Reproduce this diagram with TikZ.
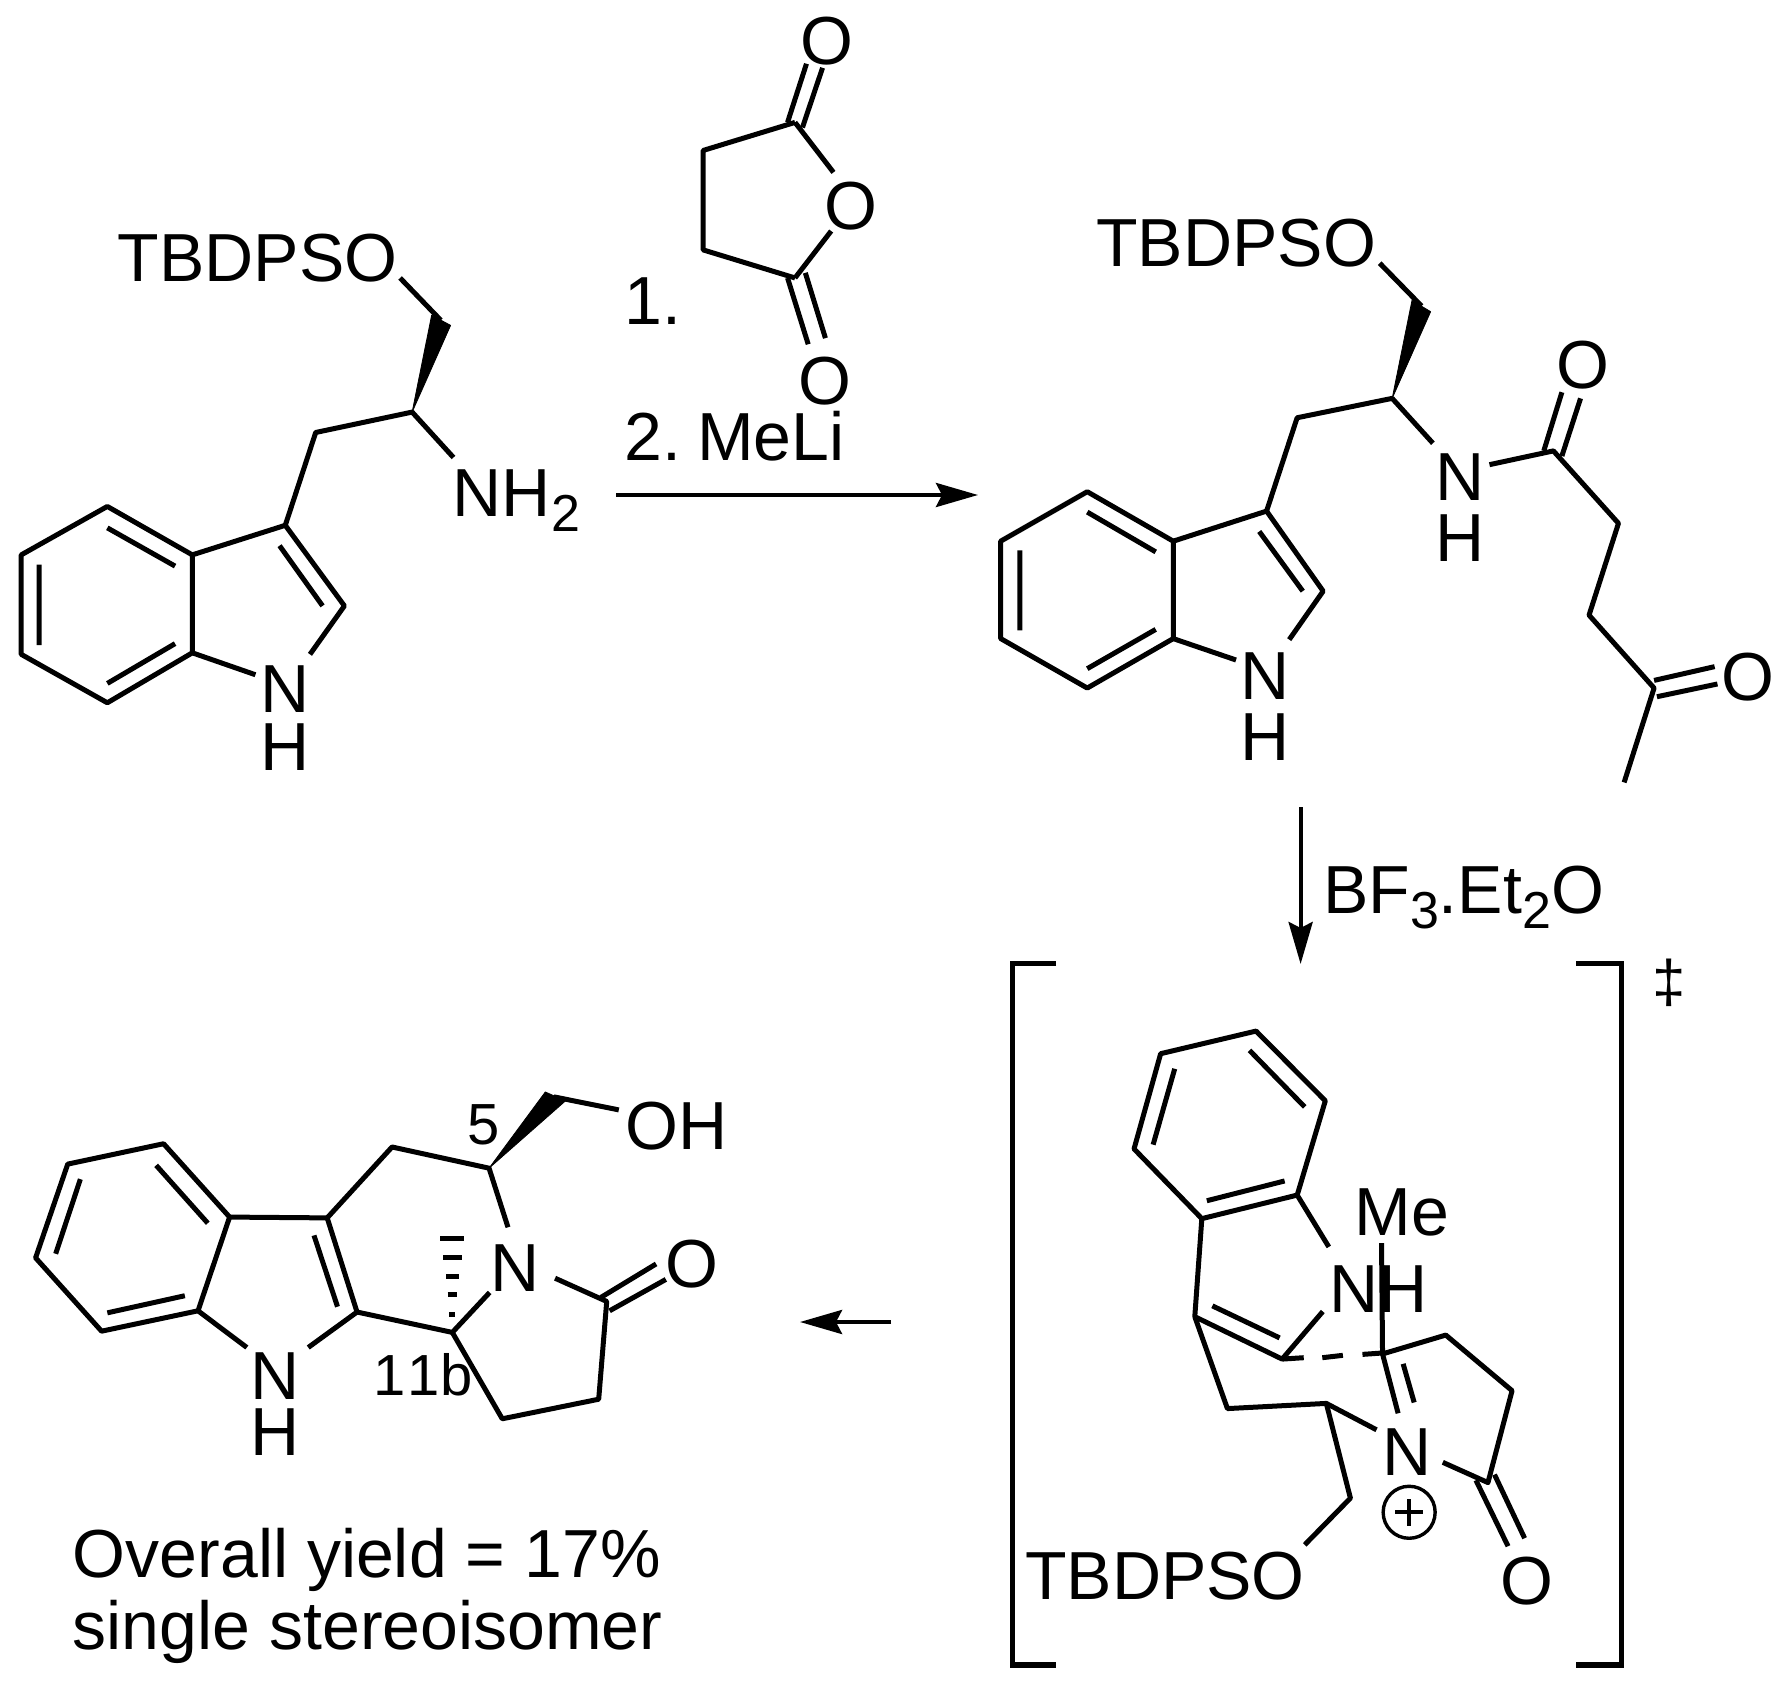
\documentclass[tikz,border=0pt]{standalone}
\usepackage{fontspec}
\setmainfont{Liberation Sans}
\usetikzlibrary{arrows.meta}
\newcommand{\subf}[1]{{\fontsize{26}{30}\selectfont\raisebox{-7.6pt}{#1}}}
\tikzset{
  atom/.style={inner sep=0pt,outer sep=0pt,anchor=base,font=\fontsize{34}{40}\selectfont},
  atomc/.style={atom,anchor=center},
  lbl/.style={atom,anchor=base west},
  small/.style={inner sep=0pt,outer sep=0pt,anchor=base west,font=\fontsize{29}{34}\selectfont},
  bond/.style={line width=2.5pt,line join=round,black},
  wedge/.style={fill=black,draw=black,line width=.4pt,line join=round},
  hash/.style={line width=2.5pt},
  rxn/.style={line width=2.1pt,-{Stealth[length=21pt,width=12pt,inset=3pt]}},
  brk/.style={line width=2.6pt,line join=miter}
}
\begin{document}
\begin{tikzpicture}
\useasboundingbox (0,0) rectangle (893.5pt,-844.5pt);
\fill[white] (0,0) rectangle (893.5pt,-844.5pt);
% ---- starting amine and anhydride
\begin{scope}[x=.287pt,y=-.255pt]
  \node[lbl] (tb1) at (205,552) {TBDPSO};
  \draw[bond] (697,545)--(768,628);
  \fill[wedge] (718,808)--(752,618)--(785,638)--cycle;
  \draw[bond] (790,897)--(718,808)--(550,848)--(497,1030);
  \draw[bond] (335,1088)--(187,993)--(37,1088)--(37,1283)--(187,1378)--(335,1280)--cycle;
  \draw[bond] (497,1030)--(335,1088);
  \draw[bond] (335,1280)--(445,1323);
  \draw[bond] (540,1283)--(600,1188)--(497,1030);
  \draw[bond] (187,1035)--(305,1110) (68,1107)--(68,1265) (187,1340)--(305,1262) (487,1070)--(562,1188);
  \node[atom] (n1) at (497,1398) {N};
  \node[atom] (h1) at (497,1510) {H};
  \node[lbl] (nh2) at (789,1012) {NH\subf{2}};
  \draw[bond] (1385,240)--(1225,295)--(1225,490)--(1385,545);
  \draw[bond] (1385,240)--(1452,338) (1448,453)--(1385,545);
  \draw[bond] (1372,240)--(1405,125) (1398,250)--(1433,133);
  \draw[bond] (1372,545)--(1408,675) (1403,535)--(1438,663);
  \node[atomc] (o1) at (1440,80) {O};
  \node[atomc] (o2) at (1482,405) {O};
  \node[atomc] (o3) at (1438,748) {O};
  \node[lbl] (s1) at (1088,636) {1.};
  \node[lbl] (s2) at (1088,903) {2.\hspace{8pt}MeLi};
\end{scope}
% ---- amide
\begin{scope}[shift={(450pt,-75pt)},x=.28285pt,y=-.255pt]
  \node[lbl] (tb2) at (347,228) {TBDPSO};
  \draw[bond] (848,222)--(922,306);
  \fill[wedge] (870,487)--(905,295)--(938,317)--cycle;
  \draw[bond] (942,575)--(870,487)--(702,525)--(648,708);
  \draw[bond] (483,767)--(331,670)--(178,767)--(178,958)--(331,1055)--(483,958)--cycle;
  \draw[bond] (648,708)--(483,767);
  \draw[bond] (483,958)--(594,1000);
  \draw[bond] (688,960)--(748,865)--(648,708);
  \draw[bond] (331,710)--(452,788) (212,785)--(212,942) (331,1017)--(452,940) (635,748)--(712,865);
  \node[atom] (n2) at (645,1078) {N};
  \node[atom] (h2) at (645,1197) {H};
  \node[atom] (n3) at (990,687) {N};
  \node[atom] (h3) at (990,807) {H};
  \draw[bond] (1042,617)--(1155,590)--(1270,732)--(1218,912)--(1333,1055)--(1280,1240);
  \draw[bond] (1138,590)--(1170,475) (1170,600)--(1203,487);
  \draw[bond] (1333,1040)--(1440,1013) (1338,1072)--(1445,1047);
  \node[atomc] (o4) at (1208,422) {O};
  \node[atomc] (o5) at (1498,1033) {O};
  \node[lbl] (bf) at (748,1497) {BF\subf{3}.Et\subf{2}O};
\end{scope}
% ---- product
\begin{scope}[shift={(0pt,-525pt)},x=.287pt,y=-.20375pt]
  \draw[bond] (285,230)--(118,280)--(62,510)--(177,690)--(345,640)--(400,410)--cycle;
  \draw[bond] (272,283)--(362,425) (140,317)--(97,500) (187,645)--(322,603);
  \draw[bond] (400,410)--(570,412)--(622,643)--(537,730);
  \draw[bond] (345,640)--(430,730);
  \draw[bond] (547,455)--(588,630);
  \draw[bond] (570,412)--(683,238)--(852,290)--(885,435);
  \draw[bond] (622,643)--(788,693)--(853,595);
  \draw[bond] (788,693)--(875,905)--(1043,857)--(1057,617)--(967,560);
  \draw[bond] (1047,607)--(1143,525) (1062,640)--(1160,563);
  \fill[wedge] (852,290)--(950,103)--(985,125)--cycle;
  \draw[bond] (965,115)--(1078,147);
  \draw[hash] (767,462)--(808,462) (772,508)--(805,508) (777,555)--(800,555) (780,600)--(797,600) (783,648)--(793,648);
  \node[atomc] (o6) at (1205,525) {O};
  \node[atom] (n4) at (898,592) {N};
  \node[lbl] (oh) at (1090,245) {OH};
  \node[small] (l5) at (815,232) {5};
  \node[small] (l11) at (650,848) {1\hspace{1pt}1\hspace{.7pt}b};
  \node[atom] (n5) at (480,858) {N};
  \node[atom] (h5) at (480,995) {H};
  \node[lbl] (y1) at (127,1295) {Overall yield = 17\%};
  \node[lbl] (y2) at (127,1470) {single stereoisomer};
\end{scope}
% ---- transition state
\begin{scope}[shift={(500pt,-475pt)},x=.251pt,y=-.23565pt]
  \draw[brk] (112,28)--(25,28)--(25,1517)--(112,1517);
  \draw[brk] (1148,28)--(1238,28)--(1238,1517)--(1148,1517);
  \node[inner sep=0pt,font=\fontsize{30}{36}\selectfont] (dd) at (1332,70) {‡};
  \draw[bond] (510,172)--(320,220)--(267,422)--(402,570)--(592,520)--(648,320)--cycle;
  \draw[bond] (497,213)--(607,333) (348,252)--(305,413) (412,532)--(567,490);
  \draw[bond] (592,520)--(655,630);
  \draw[bond] (402,570)--(388,778)--(562,868)--(643,767);
  \draw[bond] (423,755)--(557,823);
  \draw[bond] (388,778)--(453,973)--(650,962)--(750,1018);
  \draw[bond] (650,962)--(698,1163)--(607,1262);
  \draw[bond] (562,868)--(605,865) (642,865)--(683,860) (722,858)--(762,855);
  \draw[bond] (760,622)--(762,857)--(888,817)--(1020,935)--(972,1130)--(882,1087);
  \draw[bond] (762,857)--(793,983) (803,878)--(825,960);
  \draw[bond] (948,1125)--(1012,1265) (985,1113)--(1045,1248);
  \node[lbl] (me) at (706,605) {Me};
  \node[lbl] (nh) at (656,770) {NH};
  \node[atom] (n6) at (810,1115) {N};
  \coordinate (plus) at (815,1193);
  \draw[line width=1.7pt] (plus) circle[radius=13pt];
  \draw[line width=2pt] (787,1193)--(843,1193) (815,1165)--(815,1222);
  \node[lbl] (tb3) at (50,1377) {TBDPSO};
  \node[atomc] (o7) at (1050,1338) {O};
\end{scope}
% ---- reaction arrows
\coordinate (a1s) at (308pt,-247.5pt);
\coordinate (a1e) at (489pt,-247.5pt);
\coordinate (a2s) at (650.3pt,-403.5pt);
\coordinate (a2e) at (650.3pt,-482pt);
\coordinate (a3s) at (445.5pt,-661pt);
\coordinate (a3e) at (400pt,-661pt);
\draw[rxn] (a1s)--(a1e);
\draw[rxn] (a2s)--(a2e);
\draw[rxn] (a3s)--(a3e);
\end{tikzpicture}
\end{document}
